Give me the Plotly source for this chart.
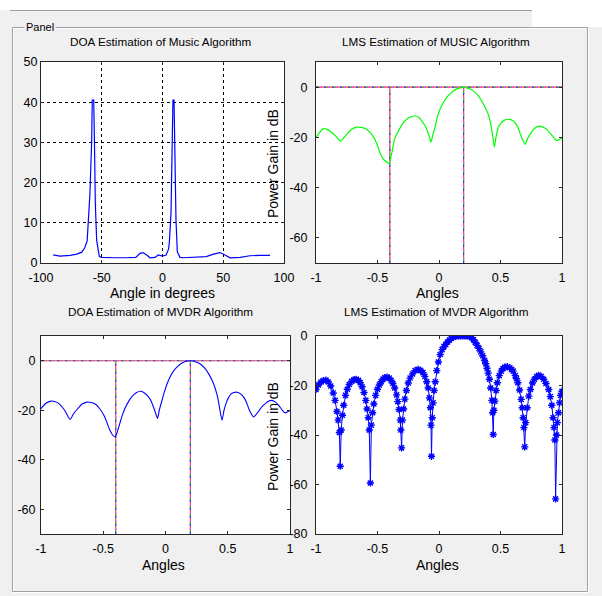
import plotly.graph_objects as go

W, H = 602, 596

# ---- MUSIC pseudo-spectrum vs. angle in degrees ----
music_deg = [-90, -84.5, -76, -70.5, -66.5, -64, -62, -61, -60, -59.7,
             -59, -58.3, -57.8, -56.6, -56, -55.3, -54.2, -53, -52, -50,
             -45, -40, -30, -22, -18.5, -16, -13, -10.3, -6.2, -3.4,
             0, 3, 5, 5.6, 7, 7.8, 8.6, 9.5, 10, 11.1,
             12.2, 14.4, 17, 25, 36, 42, 47.3, 51.4, 55.6, 64,
             72, 80, 88.5]
music_spec = [2.0, 1.7, 1.9, 2.2, 2.7, 3.8, 5.5, 9.9, 16.5, 17.4,
              24, 30.2, 40.5, 40.5, 30, 14.9, 5.7, 3.0, 1.6, 1.4,
              1.3, 1.3, 1.3, 1.4, 2.4, 2.6, 2.0, 1.3, 1.4, 2.0,
              1.7, 2.0, 3.5, 5.0, 12.4, 33.9, 40.5, 40.5, 27.3, 10.7,
              2.8, 1.4, 1.3, 1.4, 1.6, 2.2, 2.6, 2.0, 1.3, 1.4,
              1.8, 1.9, 1.9]

# ---- LMS beam pattern driven by the MUSIC estimates ----
lms_music_x = [-1.0, -0.97, -0.94, -0.91, -0.886, -0.84, -0.80, -0.775, -0.75, -0.71,
               -0.67, -0.635, -0.60, -0.565, -0.534, -0.505, -0.48, -0.45, -0.405, -0.39,
               -0.375, -0.36, -0.33, -0.30, -0.263, -0.23, -0.195, -0.165, -0.14, -0.115,
               -0.095, -0.078, -0.065, -0.05, -0.033, -0.015, 0.008, 0.035, 0.063, 0.095,
               0.13, 0.165, 0.198, 0.24, 0.28, 0.315, 0.347, 0.375, 0.40, 0.42,
               0.437, 0.45, 0.465, 0.482, 0.50, 0.523, 0.545, 0.569, 0.595, 0.618,
               0.645, 0.672, 0.70, 0.72, 0.74, 0.775, 0.815, 0.85, 0.876, 0.915,
               0.951, 0.975, 1.0]
lms_music_db = [-20.1, -18, -16.5, -16.8, -17.5, -19.5, -21.5, -20.2, -18.8, -16.8,
                -15.9, -16, -16.5, -17.8, -19.7, -22.5, -26.1, -28.8, -30.4, -27.5,
                -24, -20.5, -17.5, -14.8, -12.8, -11.8, -11.5, -12, -13.5, -15.2,
                -17.5, -19.8, -21.9, -19, -16.1, -12.3, -8.8, -6.2, -4.1, -2.4,
                -1.1, -0.4, -0.1, -0.5, -1.5, -3.2, -5.5, -8, -10.8, -14.5,
                -19.5, -23.9, -19.5, -16.1, -14.5, -13.5, -12.9, -12.8, -13.2, -14.1,
                -16.5, -20.1, -22.8, -20.5, -18.8, -16.5, -15.5, -16, -16.8, -19,
                -21.1, -21, -20.1]

# ---- MVDR spatial spectrum ----
mvdr_x = [-1.0, -0.96, -0.92, -0.89, -0.856, -0.81, -0.767, -0.74, -0.709, -0.67,
          -0.629, -0.595, -0.562, -0.53, -0.495, -0.47, -0.45, -0.425, -0.407, -0.39,
          -0.375, -0.35, -0.326, -0.295, -0.268, -0.235, -0.20, -0.175, -0.147, -0.12,
          -0.102, -0.082, -0.064, -0.05, -0.032, -0.01, 0.013, 0.04, 0.067, 0.10,
          0.133, 0.165, 0.20, 0.24, 0.28, 0.315, 0.347, 0.375, 0.40, 0.42,
          0.433, 0.454, 0.47, 0.486, 0.505, 0.529, 0.55, 0.574, 0.60, 0.628,
          0.65, 0.674, 0.708, 0.73, 0.748, 0.775, 0.802, 0.83, 0.855, 0.88,
          0.909, 0.935, 0.957, 0.975, 1.0]
mvdr_db = [-19.3, -17.2, -16.3, -16.5, -17.3, -20, -23.7, -21.5, -19.6, -17.5,
           -16.7, -16.9, -17.6, -19.3, -22, -25, -27.7, -30, -30.7, -29.2,
           -26.7, -22.5, -19.3, -16.3, -14.4, -12.9, -12.3, -12.8, -14, -15.8,
           -18, -20.8, -23.3, -20, -16.7, -12.8, -9.3, -6.3, -4, -2.2,
           -0.9, -0.2, 0, -0.4, -1.3, -3, -5.3, -8, -11.3, -15,
           -18.7, -24, -20, -17.3, -15, -13.3, -12.8, -12.7, -13.3, -14.7,
           -16.8, -20, -22.7, -21.6, -20.4, -18.5, -17.3, -16.3, -16, -16.6,
           -18, -19.8, -21, -20.8, -20]

# ---- LMS beam pattern driven by the MVDR estimates ----
lms_mvdr_x = [
    -1.0, -0.98, -0.96, -0.94, -0.92, -0.90, -0.88, -0.86, -0.845, -0.83, -0.82, -0.81, -0.803,
    -0.795, -0.785, -0.775, -0.76, -0.745, -0.73, -0.71, -0.69, -0.674, -0.655, -0.64, -0.625,
    -0.61, -0.595, -0.585, -0.575, -0.567, -0.558,
    -0.55, -0.54, -0.53, -0.515, -0.5, -0.485, -0.47, -0.455, -0.44, -0.423,
    -0.405, -0.39, -0.375, -0.36, -0.345, -0.335, -0.325, -0.315, -0.31, -0.304,
    -0.297, -0.288, -0.278, -0.265, -0.25, -0.235, -0.215, -0.195, -0.17, -0.15,
    -0.13, -0.115, -0.1, -0.088, -0.078, -0.07, -0.065, -0.061,
    -0.055, -0.048, -0.04, -0.03, -0.018, -0.005, 0.01, 0.025, 0.04, 0.055,
    0.07, 0.085, 0.1, 0.115, 0.13, 0.145, 0.16, 0.175, 0.19, 0.205,
    0.22, 0.235, 0.25, 0.265, 0.28, 0.295, 0.31, 0.325, 0.34, 0.355,
    0.37, 0.38, 0.39, 0.4, 0.41, 0.42, 0.43, 0.436, 0.441,
    0.446, 0.454, 0.464, 0.474, 0.49, 0.506, 0.52, 0.535, 0.555, 0.575,
    0.59, 0.603, 0.62, 0.63, 0.641, 0.655, 0.668, 0.677, 0.684, 0.69, 0.697,
    0.705, 0.717, 0.73, 0.743, 0.76, 0.776, 0.793, 0.81, 0.83, 0.851,
    0.87, 0.892, 0.905, 0.917, 0.927, 0.935, 0.942, 0.948,
    0.955, 0.962, 0.972, 0.98, 0.988, 1.0]
lms_mvdr_db = [
    -21.6, -19.8, -18.6, -18.0, -17.8, -18.6, -20.2, -23.0, -26.0, -30.5, -34, -39, -52.6,
    -38, -32, -28, -24, -21.5, -19.6, -18.3, -17.6, -17.5, -17.9, -18.9, -20.5,
    -22.8, -26, -29.5, -33, -38, -59.4,
    -36, -31, -27.5, -24, -21.5, -19.8, -18.5, -17.4, -16.8, -16.6,
    -17, -17.9, -19.2, -21, -23.8, -26.5, -29.7, -34, -38, -45.2,
    -34, -29.5, -25.5, -22, -19, -17, -15.3, -14, -13.5, -13.9,
    -14.8, -16.3, -18.5, -21, -25, -29, -36, -48.6,
    -33, -27, -22, -18.5, -14, -10.5, -7.5, -5.5, -4.3, -3.4,
    -2.4, -1.6, -1.0, -0.5, -0.2, 0, 0, 0, 0, 0,
    0, 0, -0.2, -0.7, -1.5, -2.6, -3.8, -5, -6.4, -8,
    -9.8, -11.2, -13, -15, -17.5, -21, -26, -31, -39.8,
    -30, -26.3, -22, -18.9, -16, -14.2, -13.1, -12.6, -12.4, -12.8,
    -13.5, -14.2, -16, -17.3, -18.9, -21.8, -25.6, -29, -33, -37, -44.8,
    -35, -29, -24.3, -21.6, -19, -17.5, -16.4, -15.9, -16.3, -17.5,
    -19.2, -21.6, -24.5, -28, -33, -37, -42, -65.8,
    -40, -35, -31, -27, -24, -22.3]

# estimated source directions (sine of the arrival angle)
source_dirs = [-0.4, 0.2]

deg_ticks = [-100, -50, 0, 50, 100]
spec_ticks = [0, 10, 20, 30, 40, 50]
sin_ticks = [-1, -0.5, 0, 0.5, 1]
db_ticks_a = [0, -20, -40, -60]
db_ticks_b = [0, -20, -40, -60, -80]

subplot_titles = ["DOA Estimation of Music Algorithm", "LMS Estimation of MUSIC Algorithm",
                  "DOA Estimation of MVDR Algorithm", "LMS Estimation of MVDR Algorithm"]

FONT = "Liberation Sans"
AX = "#262626"


def px(x):
    return x / W


def py(y):
    return 1 - y / H


def fmt(v):
    return ("%g" % v)


def axis(dom, rng, ticks, anchor, grid=False, horizontal=True, standoff=0):
    d = dict(
        domain=[px(dom[0]), px(dom[1])] if horizontal else [py(dom[1]), py(dom[0])],
        range=rng, anchor=anchor, tickmode="array", tickvals=ticks,
        ticktext=[fmt(t) for t in ticks], automargin=False,
        showline=True, linecolor=AX, linewidth=1, mirror="ticks",
        ticks="inside", ticklen=3, tickcolor=AX, tickwidth=1,
        zeroline=False, showgrid=grid, fixedrange=True,
        ticklabelstandoff=standoff,
        tickfont=dict(family=FONT, size=12.5, color="black"),
    )
    if grid:
        d.update(gridcolor="black", gridwidth=1, griddash="3px,3px")
    return d


fig = go.Figure()

# panel 1: MUSIC spectrum
fig.add_trace(go.Scatter(x=music_deg, y=music_spec, mode="lines",
                         line=dict(color="#0000FF", width=1.2),
                         xaxis="x", yaxis="y", showlegend=False))


def guide(xs, ys, xa, ya):
    # multi-coloured dash-dot reference line
    for color, dash in [("#FF4040", "solid"), ("#3030FF", "2px,6px"),
                        ("#30C030", "0px,2px,2px,4px"), ("#E050E0", "0px,4px,2px,2px")]:
        fig.add_trace(go.Scatter(x=xs, y=ys, mode="lines",
                                 line=dict(color=color, width=1.2, dash=dash),
                                 xaxis=xa, yaxis=ya, showlegend=False, hoverinfo="skip"))


# panel 2: LMS pattern (MUSIC)
guide([-1, 1], [0, 0], "x2", "y2")
for s in source_dirs:
    guide([s, s], [-70, 0], "x2", "y2")
fig.add_trace(go.Scatter(x=lms_music_x, y=lms_music_db, mode="lines",
                         line=dict(color="#00FF00", width=1.2, shape="spline", smoothing=0.6),
                         xaxis="x2", yaxis="y2", showlegend=False))

# panel 3: MVDR spectrum
guide([-1, 1], [0, 0], "x3", "y3")
for s in source_dirs:
    guide([s, s], [-70, 0], "x3", "y3")
fig.add_trace(go.Scatter(x=mvdr_x, y=mvdr_db, mode="lines",
                         line=dict(color="#0000FF", width=1.1, shape="spline", smoothing=0.6),
                         xaxis="x3", yaxis="y3", showlegend=False))

# panel 4: LMS pattern (MVDR) with star markers
fig.add_trace(go.Scatter(x=lms_mvdr_x, y=lms_mvdr_db, mode="lines+markers",
                         line=dict(color="#0000FF", width=1),
                         marker=dict(symbol="asterisk-open", size=6, color="#0000FF",
                                     line=dict(color="#0000FF", width=1.4)),
                         xaxis="x4", yaxis="y4", showlegend=False))

# plot rectangles in pixels: (left, right), (top, bottom)
B1 = ((41, 284), (62, 263))
B2 = ((316, 562), (62, 263))
B3 = ((41, 290), (336, 534))
B4 = ((316, 562), (336, 534))

layout = dict(
    template="none",
    width=W, height=H, margin=dict(l=0, r=0, t=0, b=0, pad=0, autoexpand=False),
    paper_bgcolor="#F0F0F0", plot_bgcolor="white",
    xaxis=axis(B1[0], [-100, 100], deg_ticks, "y", grid=True, standoff=3),
    yaxis=axis(B1[1], [0, 50], spec_ticks, "x", grid=True, horizontal=False, standoff=0),
    xaxis2=axis(B2[0], [-1, 1], sin_ticks, "y2", standoff=3),
    yaxis2=axis(B2[1], [-70, 10], db_ticks_a, "x2", horizontal=False, standoff=5),
    xaxis3=axis(B3[0], [-1, 1], sin_ticks, "y3", standoff=3),
    yaxis3=axis(B3[1], [-70, 10], db_ticks_a, "x3", horizontal=False, standoff=2),
    xaxis4=axis(B4[0], [-1, 1], sin_ticks, "y4", standoff=3),
    yaxis4=axis(B4[1], [-80, 0], db_ticks_b, "x4", horizontal=False, standoff=5),
)
fig.update_layout(**layout)

shapes = [
    # window strip and separator above the panel
    dict(type="rect", xref="paper", yref="paper", x0=0, x1=1, y0=py(10), y1=1,
         fillcolor="white", line=dict(width=0), layer="below"),
    dict(type="rect", xref="paper", yref="paper", x0=px(532), x1=1, y0=py(27), y1=1,
         fillcolor="white", line=dict(width=0), layer="below"),
    dict(type="line", xref="paper", yref="paper", x0=px(10), x1=px(532), y0=py(10.5), y1=py(10.5),
         line=dict(color="#A0A0A0", width=1)),
    # etched panel frame
    dict(type="rect", xref="paper", yref="paper", x0=px(13.5), x1=px(588.5), y0=py(592.5), y1=py(28.5),
         line=dict(color="white", width=1), fillcolor="rgba(0,0,0,0)", layer="below"),
    dict(type="rect", xref="paper", yref="paper", x0=px(12.5), x1=px(587.5), y0=py(591.5), y1=py(27.5),
         line=dict(color="#A0A0A0", width=1), fillcolor="rgba(0,0,0,0)", layer="below"),
]
fig.update_layout(shapes=shapes)

ann = []


def text(x, y, s, size, angle=0, **kw):
    d = dict(x=px(x), y=py(y), xref="paper", yref="paper", text=s, showarrow=False,
             xanchor="center", yanchor="middle", textangle=angle,
             font=dict(family=FONT, size=size, color="black"))
    d.update(kw)
    ann.append(d)


text(40, 27, "Panel", 11, bgcolor="#F0F0F0", borderpad=1)
text(161, 41, subplot_titles[0], 11.7)
text(436, 41, subplot_titles[1], 11.7)
text(161, 311, subplot_titles[2], 11.7)
text(436, 311, subplot_titles[3], 11.7)
text(162, 293, "Angle in degrees", 14)
text(437, 293, "Angles", 14)
text(163, 565, "Angles", 14)
text(437, 565, "Angles", 14)
text(273, 164, "Power Gain in dB", 14, angle=-90)
text(273, 437, "Power Gain in dB", 14, angle=-90)
fig.update_layout(annotations=ann)

fig.write_html("out.html")
